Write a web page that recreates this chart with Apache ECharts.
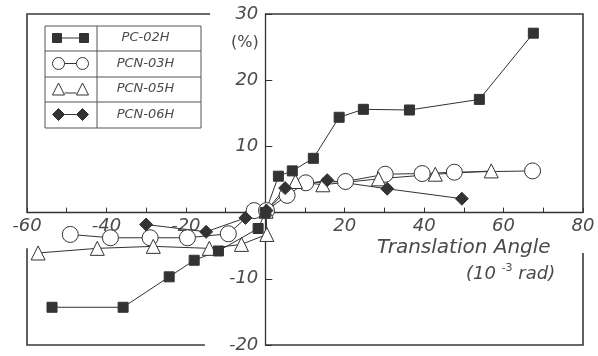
<!DOCTYPE html>
<html><head><meta charset="utf-8">
<script src="https://cdn.jsdelivr.net/npm/echarts@6/dist/echarts.min.js"></script>
<style>html,body{margin:0;padding:0;background:#fff}#c{width:598px;height:356px}</style>
</head><body><div id="c"></div>
<script>
// ---- data (x: translation angle 10^-3 rad, y: %) ----
const seriesNames = ['PC-02H', 'PCN-03H', 'PCN-05H', 'PCN-06H'];
const pc02h = [[-53.7,-14.3],[-35.8,-14.3],[-24.2,-9.7],[-17.9,-7.2],[-11.8,-5.8],[-1.8,-2.4],[0,0],[3.3,5.5],[6.8,6.3],[12.1,8.2],[18.6,14.4],[24.7,15.6],[36.3,15.5],[53.9,17.1],[67.5,27.1]];
const pcn03h = [[-49.1,-3.3],[-39.0,-3.8],[-29.0,-3.8],[-19.6,-3.8],[-9.3,-3.2],[-2.8,0.3],[0.3,0.3],[5.5,2.6],[10.2,4.5],[20.2,4.7],[30.2,5.8],[39.5,5.9],[47.6,6.1],[67.3,6.3]];
const pcn05h = [[-57.2,-6.1],[-42.3,-5.4],[-28.2,-5.1],[-14.1,-5.4],[-6.0,-4.8],[0.4,-3.3],[0.2,0.2],[7.6,4.7],[14.5,4.2],[28.5,5.1],[42.8,5.8],[56.9,6.3]];
const pcn06h = [[-30.0,-1.8],[-14.9,-2.9],[-5.0,-0.8],[0.3,0.3],[5.0,3.7],[15.6,4.9],[30.7,3.6],[49.5,2.1]];
const xTickLabels = [-60, -40, -20, 20, 40, 60, 80];
const yTickLabels = [-20, -10, 10, 20, 30];
const xTitle = 'Translation Angle';
const yUnit = '(%)';

// ---- styling ----
const FONT = 'DejaVu Sans';
const TEXT = '#4a4a4a';
const INK = '#333';
const chart = echarts.init(document.getElementById('c'));

const ICONS = {
  square: 'path://M0,0h9v9h-9z M9,4.5h18 M27,0h9v9h-9z',
  circle: 'path://M0,6a6,6 0 1,0 12,0a6,6 0 1,0 -12,0z M12,6h12 M24,6a6,6 0 1,0 12,0a6,6 0 1,0 -12,0z',
  triangle: 'path://M0,12L6,0L12,12z M12,10h12 M24,12L30,0L36,12z',
  diamond: 'path://M0,6L6,0L12,6L6,12z M12,6h12 M24,6L30,0L36,6L30,12z'
};
const filled = { color: INK, borderColor: INK, borderWidth: 1 };
const hollow = { color: '#fff', borderColor: INK, borderWidth: 1 };
const legendRows = [
  { name: seriesNames[0], icon: ICONS.square, style: filled, cy: 38.5 },
  { name: seriesNames[1], icon: ICONS.circle, style: hollow, cy: 64 },
  { name: seriesNames[2], icon: ICONS.triangle, style: hollow, cy: 89.5 },
  { name: seriesNames[3], icon: ICONS.diamond, style: filled, cy: 115 }
];
const legends = legendRows.map(r => ({
  data: [r.name], icon: r.icon, left: 52, top: r.cy - 7, padding: 0,
  itemWidth: 36, itemHeight: 12, selectedMode: false, itemStyle: r.style,
  formatter: '{a|{name}}',
  textStyle: { rich: { a: { width: 104, align: 'center', fontSize: 13, lineHeight: 14,
    fontStyle: 'italic', fontFamily: FONT, color: TEXT } } }
}));

function mkSeries(name, data, symbol, size, fillColor) {
  return {
    name, type: 'line', data, symbol, symbolSize: size, showSymbol: true,
    lineStyle: { color: INK, width: 1 },
    itemStyle: { color: fillColor, borderColor: INK, borderWidth: 1 },
    emphasis: { disabled: true }, animation: false, z: 3
  };
}

const axisLbl = { fontSize: 18, fontStyle: 'italic', fontFamily: FONT, color: TEXT };

chart.setOption({
  backgroundColor: '#fff',
  animation: false,
  grid: { left: 27, right: 15, top: 14, bottom: 11, outerBoundsMode: 'none', containLabel: false },
  legend: legends,
  xAxis: {
    type: 'value', min: -60, max: 80, interval: 10, z: 1, position: 'bottom',
    axisLine: { onZero: false, lineStyle: { color: INK, width: 1.3 } },
    axisTick: { inside: true, length: 5, lineStyle: { color: INK } },
    splitLine: { show: false },
    axisLabel: Object.assign({ margin: 5,
      formatter: v => xTickLabels.includes(v) ? String(v) : '' }, axisLbl)
  },
  yAxis: {
    type: 'value', min: -20, max: 30, interval: 10, z: 1, position: 'left',
    axisLine: { onZero: false, lineStyle: { color: INK, width: 1.3 } },
    axisTick: { inside: true, length: 7, lineStyle: { color: INK } },
    splitLine: { show: false },
    axisLabel: Object.assign({ margin: 7,
      formatter: v => yTickLabels.includes(v) ? String(v) : '' }, axisLbl)
  },
  series: [
    mkSeries(seriesNames[1], pcn03h, 'circle', 16, '#fff'),
    mkSeries(seriesNames[2], pcn05h, 'triangle', 14, '#fff'),
    mkSeries(seriesNames[0], pc02h, 'rect', 10, INK),
    mkSeries(seriesNames[3], pcn06h, 'diamond', 13, INK)
  ]
});

const px = p => chart.convertToPixel({ gridIndex: 0 }, p);
// move both axes to cross at the origin (offset measured through the scales)
const origin = px([0, 0]);
const corner = px([-60, -20]);
chart.setOption({
  xAxis: { offset: -(corner[1] - origin[1]) },
  yAxis: { offset: -(origin[0] - corner[0]) }
});

// frame with gaps (in data coordinates, converted via the grid)
const frameSegs = [
  [[-60, 0], [-60, 30], [-13.9, 30]],
  [[0, 30], [80, 30], [80, 0]],
  [[80, -6.1], [80, -20], [0, -20]],
  [[-15.2, -20], [-60, -20], [-60, -5.4]]
];
const graphics = frameSegs.map(seg => ({
  type: 'polyline', silent: true, z: 0,
  shape: { points: seg.map(px) },
  style: { stroke: '#3a3a3a', lineWidth: 1.6, fill: null }
}));
graphics.push(
  { type: 'rect', silent: true, z: 0, shape: { x: 45, y: 26, width: 156, height: 102 },
    style: { fill: null, stroke: '#555', lineWidth: 1 } },
  { type: 'line', silent: true, z: 0, shape: { x1: 97, y1: 26, x2: 97, y2: 128 }, style: { stroke: '#555', lineWidth: 1 } },
  { type: 'line', silent: true, z: 0, shape: { x1: 45, y1: 51, x2: 201, y2: 51 }, style: { stroke: '#555', lineWidth: 1 } },
  { type: 'line', silent: true, z: 0, shape: { x1: 45, y1: 77, x2: 201, y2: 77 }, style: { stroke: '#555', lineWidth: 1 } },
  { type: 'line', silent: true, z: 0, shape: { x1: 45, y1: 102, x2: 201, y2: 102 }, style: { stroke: '#555', lineWidth: 1 } },
  { type: 'text', silent: true, left: 231, top: 35,
    style: { text: yUnit, fontSize: 16, fontFamily: FONT, fill: TEXT } },
  { type: 'text', silent: true, left: 377, top: 238,
    style: { text: xTitle, fontSize: 20, fontStyle: 'italic', fontFamily: FONT, fill: TEXT } },
  { type: 'text', silent: true, left: 466, top: 263,
    style: { text: '{n|(10 }{s|-3}{n| rad)}', fill: TEXT,
      rich: { n: { fontSize: 18, fontStyle: 'italic', fontFamily: FONT, fill: TEXT, lineHeight: 22 },
              s: { fontSize: 11, fontFamily: FONT, fill: TEXT, verticalAlign: 'top', lineHeight: 22 } } } }
);
chart.setOption({ graphic: graphics });
</script>
</body></html>
